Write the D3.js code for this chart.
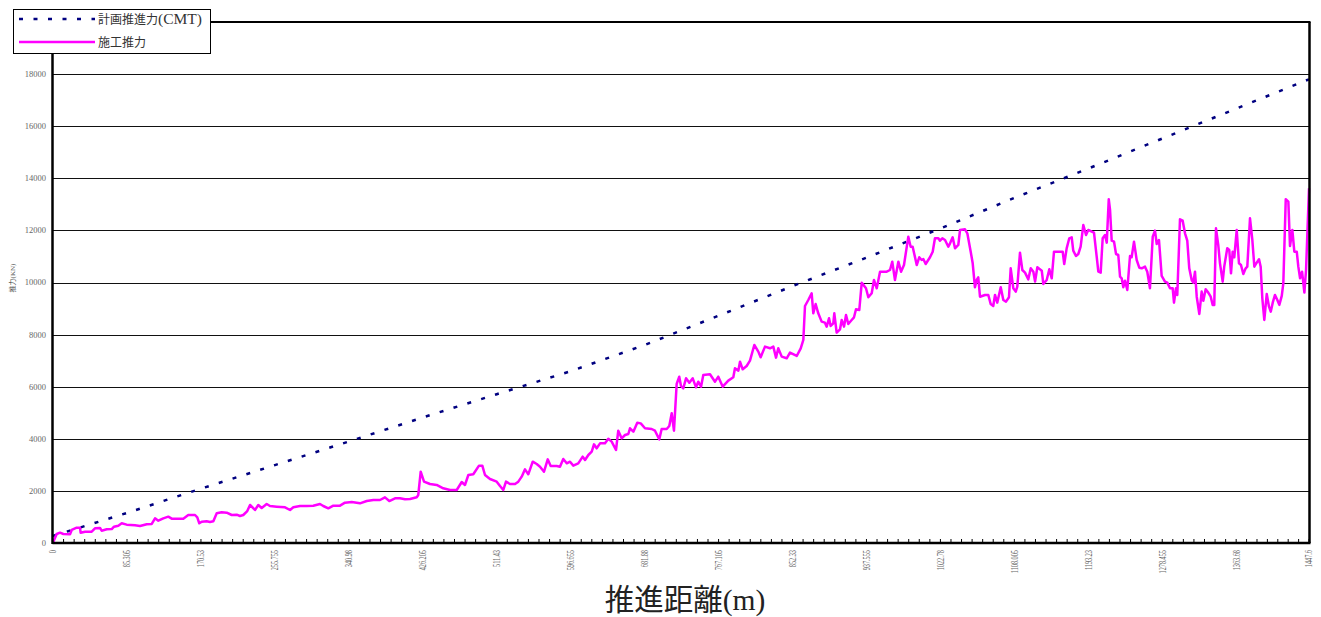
<!DOCTYPE html>
<html>
<head>
<meta charset="utf-8">
<script src="https://cdn.jsdelivr.net/npm/d3@7"></script>
<style>
  html, body { margin: 0; padding: 0; background: #fff; }
  svg { display: block; }
</style>
</head>
<body>
<svg id="chart" width="1321" height="617"></svg>
<script>
// 施工推力: 推進距離 (m) と実測推力 (kN)
const distance = [
  0, 4.3, 8.1, 11.9, 19.6, 21.6, 27.3, 31.1, 31.9, 36.9, 44.6, 48.4, 54.2, 56.1, 61.9, 67.7, 70.3, 75.3, 79.2, 84.9,
  94.5, 100.3, 108.0, 113.8, 117.6, 121.4, 127.1, 132.9, 136.8, 150.2, 155.9, 163.7, 166.3, 168.6, 171.4, 177.1, 180.9, 184.8, 188.7, 194.4,
  200.2, 206.0, 211.7, 215.5, 219.3, 223.9, 227.1, 232.8, 236.6, 240.5, 246.3, 250.1, 257.8, 267.4, 273.2, 277.0, 284.7, 292.4, 300.0, 307.7,
  311.5, 317.3, 323.1, 330.8, 336.5, 344.3, 353.8, 361.6, 369.2, 376.9, 382.6, 387.6, 394.2, 399.9, 405.7, 411.5, 419.2, 421.0, 423.8, 427.6,
  434.5, 442.2, 449.8, 457.6, 465.3, 471.1, 474.8, 478.7, 484.4, 491.0, 494.8, 497.9, 503.7, 511.4, 515.2, 519.0, 522.1, 526.7, 532.5, 536.3,
  540.2, 544.0, 547.8, 552.9, 557.5, 561.3, 565.9, 570.2, 573.6, 580.5, 584.3, 588.1, 592.1, 595.9, 599.7, 605.4, 610.5, 613.2, 617.0, 620.9,
  623.5, 626.6, 630.5, 636.2, 640.0, 643.9, 648.9, 651.5, 655.4, 659.3, 663.1, 665.0, 668.9, 673.4, 677.4, 682.3, 690.0, 693.8, 698.8, 701.5,
  707.3, 710.3, 713.1, 715.7, 718.8, 721.8, 723.8, 726.4, 729.6, 733.4, 737.3, 741.1, 743.7, 746.9, 749.5, 757.2, 763.0, 766.8, 771.9, 778.3,
  784.1, 786.0, 789.9, 791.8, 794.9, 799.5, 803.3, 808.3, 812.9, 815.6, 820.6, 826.4, 830.2, 833.3, 835.9, 839.9, 845.6, 849.4, 857.2, 861.8,
  864.8, 866.7, 870.5, 874.4, 876.3, 879.0, 882.0, 885.9, 889.7, 891.7, 894.4, 896.3, 899.3, 900.5, 903.2, 907.1, 909.0, 911.7, 914.0, 916.6,
  920.5, 923.2, 925.5, 929.3, 932.1, 937.0, 939.7, 943.6, 946.2, 949.4, 953.2, 960.9, 964.7, 967.3, 970.4, 974.3, 977.4, 980.8, 985.8, 988.5,
  990.8, 995.5, 998.4, 1001.2, 1003.1, 1005.8, 1010.8, 1013.9, 1016.5, 1020.4, 1022.3, 1025.0, 1028.1, 1031.9, 1033.9, 1036.9, 1039.6, 1043.4, 1045.4, 1051.1,
  1053.8, 1057.7, 1060.0, 1062.6, 1064.6, 1066.4, 1068.4, 1074.2, 1078.0, 1080.7, 1083.7, 1085.7, 1088.3, 1092.3, 1095.3, 1098.4, 1101.8, 1103.8, 1106.8, 1109.6,
  1111.4, 1114.5, 1117.2, 1120.3, 1124.1, 1126.9, 1129.9, 1131.9, 1134.5, 1139.6, 1141.4, 1145.3, 1148.3, 1151.1, 1153.7, 1160.6, 1163.7, 1165.5, 1168.3, 1171.3,
  1174.1, 1175.9, 1179.0, 1181.7, 1184.4, 1187.5, 1190.6, 1193.2, 1197.2, 1199.8, 1202.9, 1204.8, 1207.5, 1209.8, 1212.5, 1214.5, 1216.8, 1218.3, 1220.2, 1222.9,
  1225.2, 1227.8, 1229.8, 1231.7, 1233.6, 1235.5, 1238.2, 1241.3, 1243.2, 1245.9, 1249.0, 1252.0, 1254.8, 1258.6, 1261.2, 1264.3, 1267.5, 1270.1, 1272.1, 1274.7,
  1277.8, 1281.6, 1284.3, 1287.4, 1290.5, 1292.0, 1294.3, 1295.8, 1298.9, 1302.0, 1304.7, 1307.3, 1309.6, 1312.4, 1314.3, 1316.2, 1318.2, 1321.2, 1323.9, 1325.8,
  1328.5, 1331.5, 1334.3, 1336.6, 1338.4, 1340.4, 1343.0, 1345.0, 1348.1, 1349.9, 1353.4, 1355.7, 1357.7, 1359.6, 1361.5, 1364.3, 1366.9, 1369.2, 1371.9, 1374.6,
  1376.5, 1379.6, 1382.3, 1384.6, 1387.3, 1390.0, 1391.9, 1393.8, 1396.1, 1398.9, 1401.5, 1403.5, 1405.8, 1408.4, 1411.1, 1413.4, 1416.2, 1418.0, 1420.8, 1423.8,
  1425.7, 1428.4, 1430.7, 1433.5, 1435.3, 1437.3, 1439.6, 1442.3, 1444.2, 1447.6
];
const thrust = [
  20, 345, 395, 345, 333, 500, 588, 588, 395, 435, 435, 563, 575, 473, 525, 537, 627, 665, 755, 704,
  678, 652, 717, 730, 947, 857, 947, 1011, 934, 934, 1075, 1075, 985, 755, 819, 832, 806, 832, 1139, 1177,
  1165, 1075, 1088, 1037, 1075, 1228, 1459, 1267, 1459, 1344, 1497, 1420, 1395, 1370, 1267, 1370, 1420, 1420, 1433, 1497,
  1420, 1331, 1433, 1433, 1548, 1574, 1523, 1612, 1651, 1651, 1753, 1612, 1715, 1715, 1677, 1690, 1753, 1843, 2737, 2355,
  2265, 2227, 2099, 2035, 2035, 2342, 2227, 2611, 2637, 2969, 2969, 2611, 2457, 2355, 2188, 2035, 2355, 2265, 2265, 2355,
  2547, 2828, 2637, 3122, 3033, 2930, 2737, 3212, 2956, 2956, 2930, 3225, 3058, 3122, 2969, 3058, 3314, 3186, 3378, 3506,
  3788, 3635, 3826, 3826, 4004, 3890, 3570, 4311, 4017, 4146, 4184, 4403, 4273, 4619, 4593, 4403, 4376, 4311, 3980, 4376,
  4376, 4491, 4979, 4311, 6104, 6385, 6027, 5938, 6322, 6154, 6322, 5976, 6193, 6001, 6450, 6475, 6193, 6385, 6001, 6232,
  6361, 6706, 6616, 6961, 6668, 6795, 7000, 7602, 7346, 7129, 7538, 7474, 7538, 7116, 7474, 7154, 7090, 7308, 7180, 7474,
  7794, 9098, 9329, 9586, 8818, 9175, 8818, 8498, 8459, 8306, 8626, 8331, 8434, 8818, 8076, 8204, 8562, 8306, 8754, 8408,
  8562, 8664, 8971, 8946, 9995, 9778, 9433, 9586, 10097, 9778, 10415, 10415, 10480, 10800, 10097, 10800, 10415, 10672, 11759, 11375,
  11375, 10672, 10968, 10864, 10900, 10710, 10968, 11183, 11697, 11697, 11605, 11697, 11632, 11375, 11504, 11735, 11312, 11440, 12016, 12042,
  11888, 11183, 10736, 9816, 10097, 10199, 9455, 9522, 9522, 9175, 9098, 9522, 9226, 9816, 9329, 9264, 9433, 10544, 9778, 9650,
  9842, 11145, 10480, 10378, 10122, 10544, 10415, 10033, 10583, 10454, 9943, 10097, 10506, 10160, 11183, 11183, 11183, 10710, 11312, 11697,
  11735, 11222, 11018, 11094, 11375, 12208, 11824, 12016, 11952, 11913, 10992, 10415, 10378, 11697, 11824, 11530, 13195, 12784, 11605, 11567,
  11094, 11056, 10224, 10160, 9816, 10070, 9714, 11018, 10968, 11567, 10864, 10568, 10544, 10608, 10415, 9778, 11759, 11990, 11478, 11632,
  10250, 10033, 9995, 9778, 9778, 9226, 9778, 9522, 12427, 12374, 11888, 11605, 10544, 10097, 9995, 10415, 9455, 8792, 9650, 9302,
  9740, 9612, 9455, 9140, 9140, 12080, 11440, 10736, 10033, 10608, 11312, 11248, 10352, 11183, 10968, 12016, 10736, 10672, 10326, 10544,
  10608, 12465, 11632, 10608, 10761, 10890, 10608, 9394, 8562, 9560, 9072, 8880, 9226, 9522, 9329, 9140, 9484, 9970, 13195, 13105,
  11402, 12016, 11183, 11183, 10608, 10160, 10415, 9612, 10480, 13617
];

// 計画推進力 (CMT)
const planDistance = [0, 85.305, 170.53, 255.755, 340.98, 426.205, 511.43, 596.655, 681.88, 767.105,
                      852.33, 937.555, 1022.78, 1108.005, 1193.23, 1278.455, 1363.68, 1447.6];
const planThrust   = [270, 1155, 2085, 2990, 3895, 4820, 5712, 6595, 7600, 8725,
                      9860, 10955, 12075, 13247, 14375, 15525, 16675, 17800];

// 軸目盛
const xTickLabels = ["0", "85.305", "170.53", "255.755", "340.98", "426.205", "511.43", "596.655", "681.88",
                     "767.105", "852.33", "937.555", "1022.78", "1108.005", "1193.23", "1278.455", "1363.68", "1447.6"];
const yTicks = [0, 2000, 4000, 6000, 8000, 10000, 12000, 14000, 16000, 18000];
const minorPerMajor = 7;

// 凡例は漢字部分と英字部分で文字サイズを変える
const seriesNames = [["計画推進力", "(CMT)"], ["施工推力", ""]];
const xTitle = "推進距離(m)";
const yTitle = "推力(KN)";

const svg = d3.select("#chart");
const plotLeft = 53, plotRight = 1309, plotTop = 22, plotBottom = 543;
const serif = "'Liberation Serif', 'DejaVu Serif', 'Noto Sans CJK JP', serif";
const cjk = "'Liberation Serif', 'Noto Sans CJK JP', serif";

const x = d3.scaleLinear().domain([0, 1447.6]).range([plotLeft, plotRight]);
const y = d3.scaleLinear().domain([0, 20000]).range([plotBottom, plotTop]);

// 横グリッド線
svg.append("g")
  .selectAll("line")
  .data(yTicks.filter(d => d > 0))
  .join("line")
  .attr("x1", plotLeft).attr("x2", plotRight)
  .attr("y1", d => Math.round(y(d)) + 0.5).attr("y2", d => Math.round(y(d)) + 0.5)
  .attr("stroke", "#111").attr("stroke-width", 1);

// Y 軸目盛ラベル
svg.append("g")
  .selectAll("text")
  .data(yTicks)
  .join("text")
  .attr("x", 46).attr("y", d => y(d))
  .attr("dy", "0.35em")
  .attr("text-anchor", "end")
  .attr("font-family", serif).attr("font-size", 8.5)
  .attr("fill", "#666")
  .text(d => d);

// X 軸: 小目盛 (内向き)
const xMajor = xTickLabels.map(Number);
const minorTicks = [];
for (let i = 0; i < xMajor.length - 1; i++) {
  const step = (xMajor[i + 1] - xMajor[i]) / minorPerMajor;
  for (let k = 0; k < minorPerMajor; k++) minorTicks.push(xMajor[i] + k * step);
}
minorTicks.push(xMajor[xMajor.length - 1]);
svg.append("g")
  .selectAll("line")
  .data(minorTicks)
  .join("line")
  .attr("x1", d => x(d)).attr("x2", d => x(d))
  .attr("y1", plotBottom).attr("y2", plotBottom - 4)
  .attr("stroke", "#000").attr("stroke-width", 1);

// X 軸ラベル (回転・長体)
svg.append("g")
  .selectAll("text")
  .data(xTickLabels)
  .join("text")
  .attr("transform", d => `translate(${x(+d)},550) rotate(-90) scale(0.66,1)`)
  .attr("dy", "0.35em")
  .attr("text-anchor", "end")
  .attr("font-family", serif).attr("font-size", 9.5)
  .attr("fill", "#666")
  .text(d => d);

// 計画推進力 (点線)
const planLine = d3.line()
  .x((d, i) => x(planDistance[i]))
  .y((d, i) => y(planThrust[i]));
svg.append("path")
  .attr("d", planLine(planThrust))
  .attr("fill", "none")
  .attr("stroke", "#000080")
  .attr("stroke-width", 2.5)
  .attr("stroke-dasharray", "4,10.5");

// 施工推力 (実線)
const actLine = d3.line()
  .x((d, i) => x(distance[i]))
  .y((d, i) => y(thrust[i]));
svg.append("path")
  .attr("d", actLine(thrust))
  .attr("fill", "none")
  .attr("stroke", "#ff00ff")
  .attr("stroke-width", 2.5)
  .attr("stroke-linejoin", "round");

// 枠線
svg.append("line").attr("x1", plotLeft).attr("x2", plotRight + 1.5).attr("y1", plotTop).attr("y2", plotTop)
  .attr("stroke", "#000").attr("stroke-width", 2);
svg.append("line").attr("x1", plotRight + 0.5).attr("x2", plotRight + 0.5).attr("y1", plotTop).attr("y2", plotBottom)
  .attr("stroke", "#000").attr("stroke-width", 2.5);
svg.append("line").attr("x1", plotLeft - 0.5).attr("x2", plotRight + 1.5).attr("y1", plotBottom).attr("y2", plotBottom)
  .attr("stroke", "#000").attr("stroke-width", 2.5);
svg.append("line").attr("x1", plotLeft - 0.5).attr("x2", plotLeft - 0.5).attr("y1", plotTop).attr("y2", plotBottom + 1)
  .attr("stroke", "#000").attr("stroke-width", 2.5);

// 軸タイトル
svg.append("text")
  .attr("x", 685).attr("y", 610)
  .attr("text-anchor", "middle")
  .attr("font-family", cjk).attr("font-size", 29.5)
  .attr("fill", "#222")
  .text(xTitle);
svg.append("text")
  .attr("transform", "translate(13,278) rotate(-90)")
  .attr("text-anchor", "middle")
  .attr("dy", "0.35em")
  .attr("font-family", cjk).attr("font-size", 7)
  .attr("fill", "#555")
  .text(yTitle);

// 凡例
const legend = svg.append("g");
legend.append("rect")
  .attr("x", 13.5).attr("y", 9.5).attr("width", 197).attr("height", 44)
  .attr("fill", "#fff").attr("stroke", "#000").attr("stroke-width", 1);
const legendRows = [
  { name: seriesNames[0], y: 19, color: "#000080", width: 2.5, dash: "4,10.5" },
  { name: seriesNames[1], y: 42, color: "#ff00ff", width: 2.5, dash: null }
];
legendRows.forEach(r => {
  legend.append("line")
    .attr("x1", 19).attr("x2", 95).attr("y1", r.y).attr("y2", r.y)
    .attr("stroke", r.color).attr("stroke-width", r.width)
    .attr("stroke-dasharray", r.dash);
  const t = legend.append("text")
    .attr("x", 98).attr("y", r.y + 4.5)
    .attr("font-family", cjk)
    .attr("fill", "#333");
  t.append("tspan").attr("font-size", 12).text(r.name[0]);
  if (r.name[1]) t.append("tspan").attr("font-size", 15.5).text(r.name[1]);
});
</script>
</body>
</html>
